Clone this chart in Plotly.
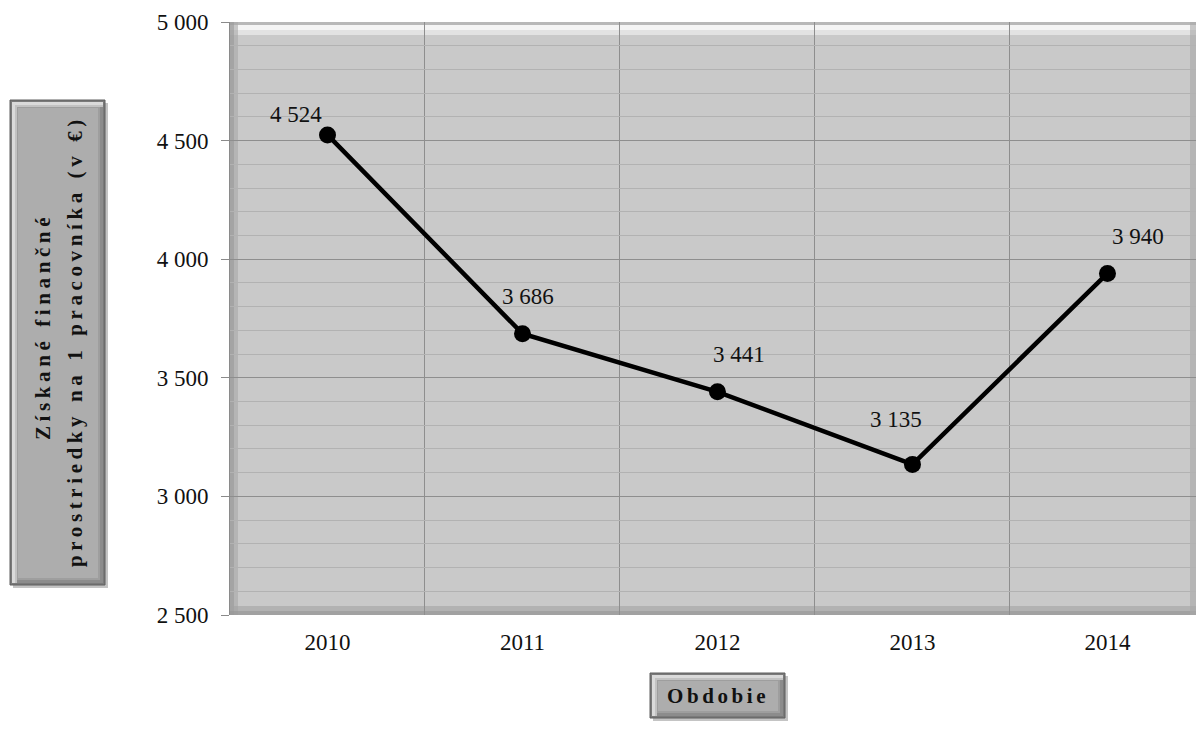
import plotly.graph_objects as go

years = ["2010", "2011", "2012", "2013", "2014"]
values = [4524, 3686, 3441, 3135, 3940]
labels = ["4 524", "3 686", "3 441", "3 135", "3 940"]
y_ticks = [2500, 3000, 3500, 4000, 4500, 5000]
y_tick_text = ["2 500", "3 000", "3 500", "4 000", "4 500", "5 000"]

# label offsets (style only, px)
lab_dx = [-32, 6, 22, -16, 31]
lab_dy = [20, 37, 37, 45, 37]

xpos = list(range(len(years)))
FONT = "Liberation Serif"

fig = go.Figure()
fig.add_trace(go.Scatter(
    x=xpos, y=values, mode="lines+markers",
    line=dict(color="black", width=4.5),
    marker=dict(color="black", size=17),
    hoverinfo="skip", showlegend=False,
))

for i, (xv, yv, t) in enumerate(zip(xpos, values, labels)):
    fig.add_annotation(x=xv, y=yv, text=t, showarrow=False,
                       xshift=lab_dx[i], yshift=lab_dy[i],
                       font=dict(family=FONT, size=23, color="#111"))

fig.update_layout(
    width=1197, height=735,
    margin=dict(l=230, r=1, t=22, b=120),
    paper_bgcolor="white", plot_bgcolor="#c9c9c9",
    font=dict(family=FONT, size=23, color="#111"),
    showlegend=False,
)
fig.update_xaxes(
    range=[-0.5, 4.454], tickvals=xpos, ticktext=years,
    showgrid=False, zeroline=False, showline=False,
    ticks="", ticklabelstandoff=11,
    tickfont=dict(family=FONT, size=23),
    minor=dict(tick0=0.5, dtick=1, showgrid=True, gridcolor="#8e8e8e", gridwidth=1),
)
fig.update_yaxes(
    range=[2500, 5000], tickvals=y_ticks, ticktext=y_tick_text,
    showgrid=True, gridcolor="#8e8e8e", gridwidth=1,
    zeroline=False, showline=True, linecolor="#8a8a8a", linewidth=1,
    ticks="outside", ticklen=8, tickcolor="#8a8a8a",
    ticklabelstandoff=8,
    tickfont=dict(family=FONT, size=23),
    minor=dict(dtick=100, showgrid=True, gridcolor="#b2b2b2", gridwidth=1),
)

# plot-area bevel
def strip(side, size, color, op):
    d = dict(type="rect", xref="x domain", yref="y domain", line=dict(width=0),
             fillcolor=color, opacity=op, layer="below")
    if side == "top":
        d.update(x0=0, x1=1, ysizemode="pixel", yanchor=1, y0=-size, y1=0)
    elif side == "bottom":
        d.update(x0=0, x1=1, ysizemode="pixel", yanchor=0, y0=0, y1=size)
    elif side == "left":
        d.update(y0=0, y1=1, xsizemode="pixel", xanchor=0, x0=0, x1=size)
    else:
        d.update(y0=0, y1=1, xsizemode="pixel", xanchor=1, x0=-size, x1=0)
    fig.add_shape(**d)

strip("top", 13, "#e2e2e2", 1)
strip("top", 8, "#f4f4f4", 1)
strip("top", 3, "#b8b8b8", 1)
strip("left", 8, "#a8a8a8", 0.6)
strip("left", 4, "#9a9a9a", 0.6)
strip("bottom", 9, "#a4a4a4", 0.6)
strip("bottom", 4, "#969696", 0.6)
strip("right", 6, "#a8a8a8", 0.6)

# beveled box helper in pixel coords relative to plot area (left, bottom)
def bevel_box(x0, x1, y0, y1):
    base = dict(type="rect", xref="paper", yref="paper", xsizemode="pixel",
                ysizemode="pixel", xanchor=0, yanchor=0, layer="above")
    fig.add_shape(**base, x0=x0 + 3, x1=x1 + 3, y0=y0 - 3, y1=y1 - 3,
                  fillcolor="#c4c4c4", line=dict(width=0))
    fig.add_shape(**base, x0=x0, x1=x1, y0=y0, y1=y1,
                  fillcolor="#7a7a7a", line=dict(color="#5e5e5e", width=1))
    fig.add_shape(**base, x0=x0 + 2, x1=x1 - 2, y0=y0 + 2, y1=y1 - 2,
                  fillcolor="#dadada", line=dict(width=0))
    fig.add_shape(**base, x0=x0 + 5, x1=x1 - 2, y0=y0 + 2, y1=y1 - 5,
                  fillcolor="#c2c2c2", line=dict(width=0))
    fig.add_shape(**base, x0=x0 + 7, x1=x1 - 2, y0=y0 + 2, y1=y1 - 7,
                  fillcolor="#8c8c8c", line=dict(width=0))
    fig.add_shape(**base, x0=x0 + 7, x1=x1 - 5, y0=y0 + 5, y1=y1 - 7,
                  fillcolor="#9e9e9e", line=dict(width=0))
    fig.add_shape(**base, x0=x0 + 8, x1=x1 - 7, y0=y0 + 7, y1=y1 - 8,
                  fillcolor="#adadad", line=dict(width=0))

# y title box: image px x 10-105, y 100-585
bevel_box(10 - 230, 105 - 230, 615 - 585, 615 - 100)
# x title box: image px x 650-785, y 673-718
bevel_box(650 - 230, 785 - 230, 615 - 718, 615 - 673)

y_title_lines = ["Získané finančné", "prostriedky na 1 pracovníka (v €)"]
y_line_x = [43, 75]
y_line_y = [327, 341]
for t, lx, ly in zip(y_title_lines, y_line_x, y_line_y):
    fig.add_annotation(
        xref="paper", yref="paper", x=0, y=0, xanchor="center", yanchor="middle",
        xshift=lx - 230, yshift=615 - ly,
        text=f"<b><span style='letter-spacing:4.6px'>{t}</span></b>",
        textangle=-90, showarrow=False,
        font=dict(family=FONT, size=21, color="#111"),
    )
fig.add_annotation(
    xref="paper", yref="paper", x=0, y=0, xanchor="center", yanchor="middle",
    xshift=718 - 230, yshift=615 - 696,
    text="<b><span style='letter-spacing:3.6px'>Obdobie</span></b>",
    showarrow=False, font=dict(family=FONT, size=21, color="#111"),
)

fig.write_html("out.html")
